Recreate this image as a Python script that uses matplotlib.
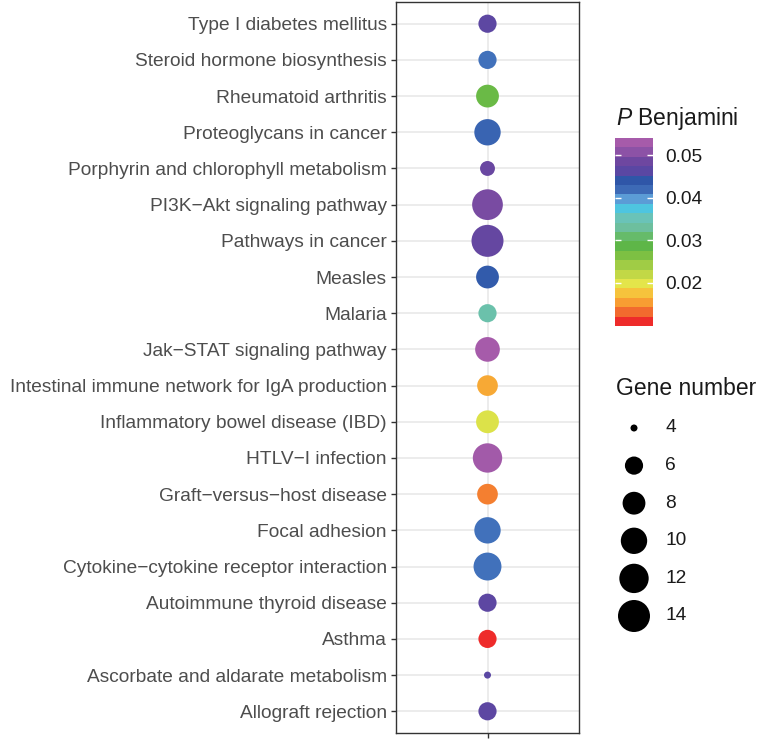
import numpy as np
import matplotlib
matplotlib.use('Agg')
import matplotlib.pyplot as plt
from matplotlib.colors import LinearSegmentedColormap, Normalize
import matplotlib.cm as cm

plt.rcParams['font.family'] = ['Liberation Sans', 'DejaVu Sans']
plt.rcParams['mathtext.fontset'] = 'custom'
plt.rcParams['mathtext.it'] = 'Liberation Sans:italic'
plt.rcParams['mathtext.rm'] = 'Liberation Sans'

# pathways, bottom to top (as drawn on the y axis)
pathways = [
    'Allograft rejection',
    'Ascorbate and aldarate metabolism',
    'Asthma',
    'Autoimmune thyroid disease',
    'Cytokine\u2212cytokine receptor interaction',
    'Focal adhesion',
    'Graft\u2212versus\u2212host disease',
    'HTLV\u2212I infection',
    'Inflammatory bowel disease (IBD)',
    'Intestinal immune network for IgA production',
    'Jak\u2212STAT signaling pathway',
    'Malaria',
    'Measles',
    'Pathways in cancer',
    'PI3K\u2212Akt signaling pathway',
    'Porphyrin and chlorophyll metabolism',
    'Proteoglycans in cancer',
    'Rheumatoid arthritis',
    'Steroid hormone biosynthesis',
    'Type I diabetes mellitus',
]
gene_number = [6, 4, 6, 6, 11, 10, 7, 12, 8, 7, 9, 6, 8, 14, 13, 5, 10, 8, 6, 6]
p_benjamini = [0.0474, 0.0470, 0.0099, 0.0474, 0.0420, 0.0420, 0.0132, 0.0535,
               0.0198, 0.0154, 0.0540, 0.0342, 0.0441, 0.0482, 0.0502, 0.0487,
               0.0430, 0.0275, 0.0420, 0.0474]

size_breaks = [4, 6, 8, 10, 12, 14]
cbar_ticks = [0.02, 0.03, 0.04, 0.05]

# rainbow palette, low (red) to high (magenta)
palette = ['#EE2B2A', '#F26A2E', '#F89D32', '#F6C33C', '#E4E54A', '#C2D846',
           '#A0CC45', '#7DC043', '#5EB648', '#66BB6A', '#6DBF9E', '#6AC3B8',
           '#4EC5E0', '#5B9CD6', '#3D6AB6', '#2F56A8', '#5A47A3', '#6E47A0',
           '#8C52A6', '#A65BAA']
cmap = LinearSegmentedColormap.from_list('rb', palette)
norm = Normalize(vmin=min(p_benjamini), vmax=max(p_benjamini))

W, H = 762, 743
DPI = 100


def diam_px(v):
    # ggplot style area scaling, size range 1..6
    sz = 1 + 5 * np.sqrt((np.asarray(v, float) - 4) / 10.0)
    return 5 * sz + 2


def marker_s(v):
    return (diam_px(v) * 72.0 / DPI) ** 2


def fx(px):
    return px / W


def fy(py):
    return 1 - py / H


fig = plt.figure(figsize=(W / DPI, H / DPI), dpi=DPI)
ax = fig.add_axes([fx(396), fy(733), fx(579) - fx(396), fy(2) - fy(733)])

ypos = np.arange(1, len(pathways) + 1)
ax.scatter(np.ones(len(pathways)), ypos, s=marker_s(gene_number),
           c=p_benjamini, cmap=cmap, norm=norm, linewidths=0, zorder=3)

ax.set_xlim(0.4, 1.6)
ax.set_ylim(0.4, len(pathways) + 0.6)
ax.set_yticks(ypos)
ax.set_yticklabels(pathways)
ax.set_xticks([1])
ax.set_xticklabels([''])
ax.grid(True, color='#EBEBEB', linewidth=1.3)
ax.set_axisbelow(True)
for sp in ax.spines.values():
    sp.set_color('#333333')
    sp.set_linewidth(1.0)
ax.tick_params(colors='#333333', length=3.5, width=1.0, labelsize=13.8,
               labelcolor='#4D4D4D', pad=3)

# colour bar
cax = fig.add_axes([fx(615), fy(326), fx(653) - fx(615), fy(138) - fy(326)])
sm = cm.ScalarMappable(norm=norm, cmap=cmap.resampled(20))
cb = fig.colorbar(sm, cax=cax, ticks=cbar_ticks)
cb.outline.set_visible(False)
cb.ax.set_yticklabels(['%.2f' % t for t in cbar_ticks])
cax.tick_params(left=True, right=True, direction='in', color='white',
                length=4.5, width=1.0, labelsize=13.8, labelcolor='#1A1A1A',
                pad=9)
fig.text(fx(616), fy(125), r'$\it{P}$ Benjamini', fontsize=16.5,
         color='#1A1A1A', va='baseline', ha='left')

# size legend
fig.text(fx(616), fy(395), 'Gene number', fontsize=16.5, color='#1A1A1A',
         va='baseline', ha='left')
lax = fig.add_axes([fx(600), fy(640), fx(762) - fx(600), fy(405) - fy(640)])
lax.set_xlim(600, 762)
lax.set_ylim(640, 405)
lax.axis('off')
ly = 428 + 37.6 * np.arange(len(size_breaks))
lax.scatter(np.full(len(size_breaks), 634), ly, s=marker_s(size_breaks),
            color='black', linewidths=0, clip_on=False)
for yy, b in zip(ly, size_breaks):
    lax.text(665, yy, str(b), fontsize=13.8, color='#1A1A1A', va='center',
             ha='left')

fig.savefig('out.png', dpi=DPI)
